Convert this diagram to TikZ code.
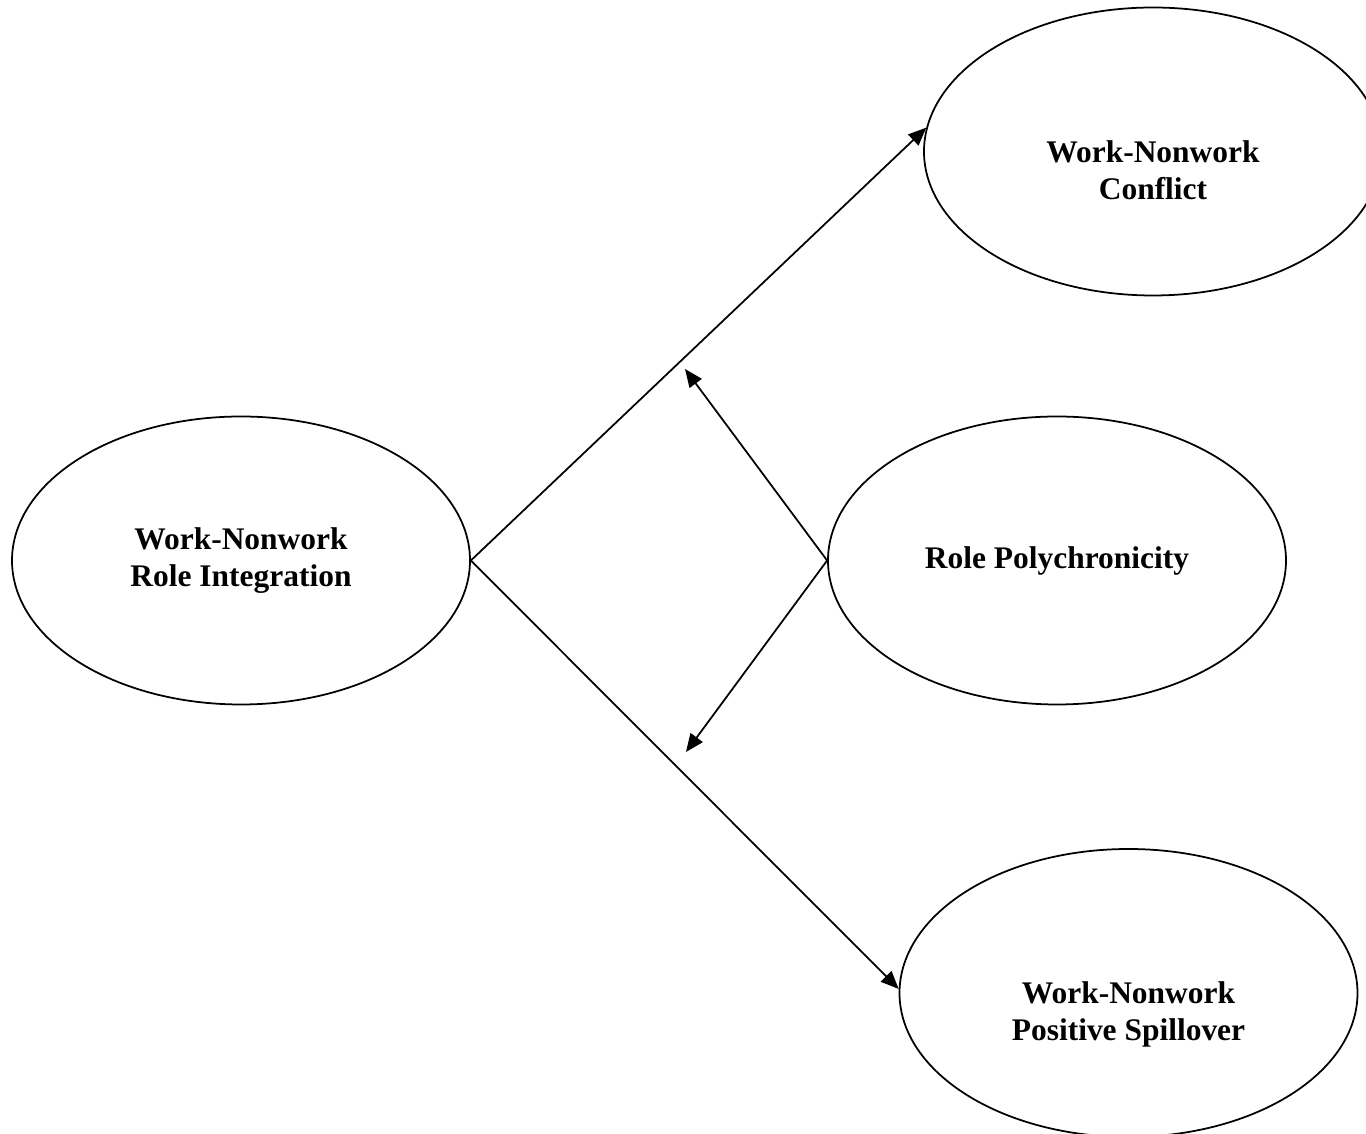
\documentclass[tikz,border=0pt]{standalone}
\usepackage{fontspec}
\setmainfont{Liberation Serif}
\usetikzlibrary{arrows.meta,shapes.geometric,positioning}

\begin{document}
\begin{tikzpicture}[
    latent/.style = {ellipse, draw, line width=1pt, inner sep=0pt,
                     minimum width=9.16cm, minimum height=5.76cm,
                     font=\fontsize{17.9}{21}\selectfont\bfseries, align=center},
    txt/.style = {font=\fontsize{17.9}{21}\selectfont\bfseries, align=center},
    link/.style = {line width=1pt, -{Triangle[length=0.36cm,width=0.3cm]}}
  ]
  \useasboundingbox (0,0) rectangle (27.32,22.68);

  \node[latent] (integ) at (4.82,11.47) {Work-Nonwork\\Role Integration};
  \node[latent, right of = integ, node distance = 16.32cm] (poly) {Role Polychronicity};
  \node[latent, label={[txt, yshift=-0.38cm]center:Work-Nonwork\\Conflict}] (conf) at (23.06,19.65) {};
  \node[latent, label={[txt, yshift=-0.42cm]center:Work-Nonwork\\Positive Spillover}] (spill) at (22.57,2.82) {};

  \coordinate (modtop) at (13.70,15.30);
  \coordinate (modbot) at (13.72,7.64);

  \draw[link] (integ.east) to (conf.174);
  \draw[link] (integ.east) to (spill.179);

  \draw[link] (poly.west) to (modtop);
  \draw[link] (poly.west) to (modbot);
\end{tikzpicture}
\end{document}
